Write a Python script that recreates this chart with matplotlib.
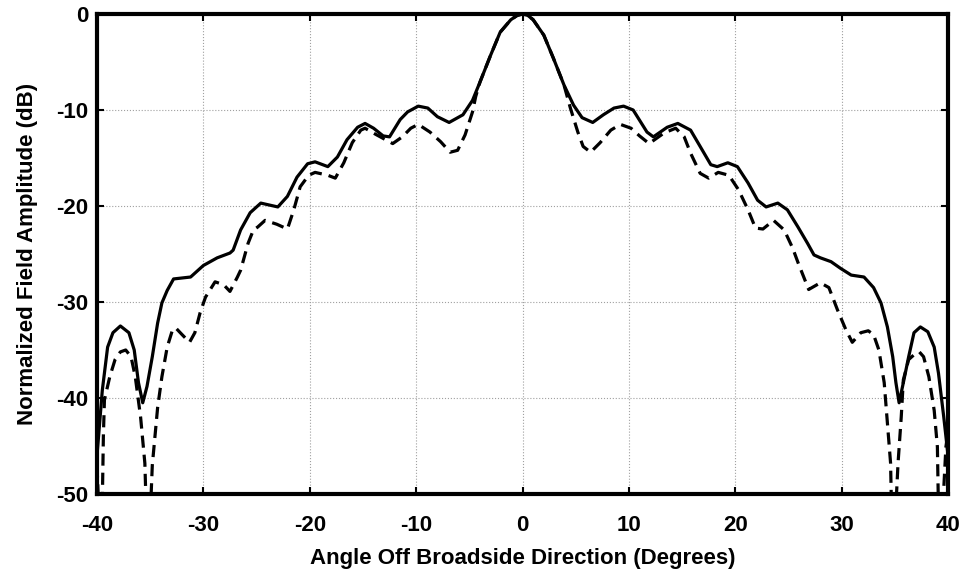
import matplotlib
matplotlib.use('Agg')
import matplotlib.pyplot as plt

matplotlib.rc('font', family='Liberation Sans', weight='bold', size=16)
matplotlib.rc('axes', unicode_minus=False)

# angle (deg) and normalized amplitude (dB)
solid_x = [-40.0, -39.5, -39.0, -38.5, -37.8, -37.0, -36.5, -36.1, -35.7, -35.3,
           -34.8, -34.3, -33.9, -33.4, -32.8, -32.0, -31.2, -30.0, -28.7, -27.5,
           -27.2, -26.5, -25.6, -24.6, -23.8, -23.0, -22.1, -21.2, -20.2, -19.5,
           -18.3, -17.4, -16.5, -15.5, -14.8, -14.0, -13.1, -12.5, -11.5, -10.8,
           -9.8, -8.9, -8.0, -6.9, -5.6, -4.7, -4.0, -3.0, -2.1, -1.1, -0.5,
           0.0, 0.5, 1.0, 2.0, 2.9, 3.9, 4.8, 5.6, 6.6, 7.6, 8.6,
           9.5, 10.4, 11.7, 12.3, 13.6, 14.6, 15.8, 16.7, 17.7, 18.3,
           19.3, 20.2, 21.2, 22.1, 22.9, 24.0, 24.9, 25.9, 26.8, 27.4,
           28.0, 29.0, 29.9, 30.9, 32.1, 33.0, 33.7, 34.3, 34.8, 35.1,
           35.4, 35.8, 36.3, 36.8, 37.4, 38.1, 38.7, 39.1, 39.6, 40.0]
solid_y = [-46.0, -39.2, -34.7, -33.2, -32.5, -33.2, -35.0, -38.4, -40.5, -38.8,
           -35.7, -32.2, -30.1, -28.8, -27.6, -27.5, -27.4, -26.2, -25.4, -24.9,
           -24.6, -22.5, -20.7, -19.7, -19.9, -20.1, -19.0, -17.0, -15.6, -15.4,
           -15.9, -14.9, -13.1, -11.8, -11.4, -11.9, -12.7, -12.8, -11.0, -10.2,
           -9.6, -9.8, -10.7, -11.3, -10.5, -9.0, -7.1, -4.3, -1.9, -0.6, -0.15,
           0.0, -0.15, -0.6, -2.2, -4.6, -7.4, -9.5, -10.8, -11.3, -10.5, -9.8,
           -9.6, -10.0, -12.3, -12.8, -11.8, -11.4, -12.1, -13.8, -15.7, -15.9,
           -15.5, -15.9, -17.6, -19.4, -20.1, -19.7, -20.4, -22.2, -23.9, -25.1,
           -25.4, -25.8, -26.5, -27.2, -27.4, -28.5, -30.1, -32.6, -35.7, -38.4,
           -40.5, -38.4, -35.7, -33.2, -32.6, -33.1, -34.7, -37.4, -42.0, -46.0]

dashed_x = [-40.0, -39.6, -39.4, -39.3, -38.8, -38.3, -37.8, -37.3, -36.8, -36.4,
            -35.9, -35.5, -35.2, -34.8, -34.3, -33.9, -33.4, -32.9, -32.6, -32.0,
            -31.3, -30.8, -30.3, -29.8, -28.9, -28.1, -27.5, -26.8, -26.5, -25.8,
            -25.3, -24.9, -24.2, -23.1, -22.1, -21.5, -20.9, -20.1, -19.5, -18.3,
            -17.6, -16.8, -16.0, -15.2, -14.8, -13.7, -12.2, -11.3, -10.5, -9.8,
            -8.7, -7.7, -6.8, -6.1, -5.4, -4.7, -4.4, -4.0, -3.0, -2.1,
            -1.1, -0.5, 0.0, 0.5, 1.0, 2.0, 2.9, 3.9, 4.5, 5.2, 5.7, 6.4,
            7.3, 8.3, 9.2, 10.2, 11.0, 11.9, 13.3, 14.4, 15.2, 15.8,
            16.7, 17.5, 18.4, 19.4, 20.3, 21.2, 21.9, 22.6, 23.6, 24.6,
            25.4, 25.9, 26.9, 28.0, 28.8, 29.6, 30.4, 31.0, 31.8, 32.5,
            33.0, 33.5, 34.0, 34.3, 34.6, 34.8, 35.3, 35.6, 35.8, 36.3,
            37.0, 37.3, 37.7, 38.2, 38.7, 39.0, 39.2, 39.8, 40.0]
dashed_y = [-47.0, -58.0, -44.0, -40.2, -37.8, -36.0, -35.2, -35.0, -35.7, -37.8,
            -42.0, -46.8, -58.0, -47.0, -41.0, -37.8, -34.7, -32.9, -32.7, -33.4,
            -34.2, -33.2, -31.1, -29.5, -27.9, -28.2, -28.9, -27.4, -26.7, -23.9,
            -22.5, -22.2, -21.5, -21.9, -22.4, -20.4, -18.0, -16.8, -16.5, -16.8,
            -17.1, -15.5, -13.4, -12.1, -11.9, -12.6, -13.5, -12.8, -11.9, -11.5,
            -12.3, -13.3, -14.4, -14.2, -12.6, -10.2, -8.6, -7.1, -4.3, -1.9,
            -0.6, -0.15, 0.0, -0.15, -0.6, -2.2, -4.6, -7.4, -9.8, -12.3, -13.8, -14.4,
            -13.4, -12.1, -11.5, -11.9, -12.7, -13.5, -12.4, -11.9, -12.8, -14.5,
            -16.6, -17.1, -16.5, -16.8, -18.3, -20.4, -22.3, -22.4, -21.5, -22.5,
            -24.4, -25.9, -28.7, -28.0, -28.5, -30.8, -32.9, -34.2, -33.2, -33.0,
            -33.4, -35.0, -38.4, -42.6, -46.8, -58.0, -46.8, -42.0, -38.1, -36.0,
            -35.3, -35.2, -35.7, -37.8, -41.3, -45.1, -58.0, -45.1, -43.5]

x_ticks = [-40, -30, -20, -10, 0, 10, 20, 30, 40]
y_ticks = [-50, -40, -30, -20, -10, 0]

fig = plt.figure(figsize=(9.66, 5.73), dpi=100)
ax = fig.add_axes([0.1004, 0.1379, 0.8810, 0.8377])

ax.plot(solid_x, solid_y, color='black', linewidth=2.3, linestyle='-')
ax.plot(dashed_x, dashed_y, color='black', linewidth=2.3, linestyle=(0, (3.8, 2.2)))

ax.set_xlim(-40, 40)
ax.set_ylim(-50, 0)
ax.set_xticks(x_ticks)
ax.set_yticks(y_ticks)
ax.grid(True, color='#a0a0a0', linestyle=':', linewidth=0.8)
ax.tick_params(direction='in', length=5, width=1.5, top=True, right=True, labelsize=16)
ax.tick_params(axis='x', pad=15)
ax.tick_params(axis='y', pad=6)
for s in ax.spines.values():
    s.set_linewidth(3)

ax.set_xlabel('Angle Off Broadside Direction (Degrees)', fontsize=16, fontweight='bold', labelpad=9)
ax.set_ylabel('Normalized Field Amplitude (dB)', fontsize=16, fontweight='bold', labelpad=13)

fig.savefig('out.png', dpi=100)
